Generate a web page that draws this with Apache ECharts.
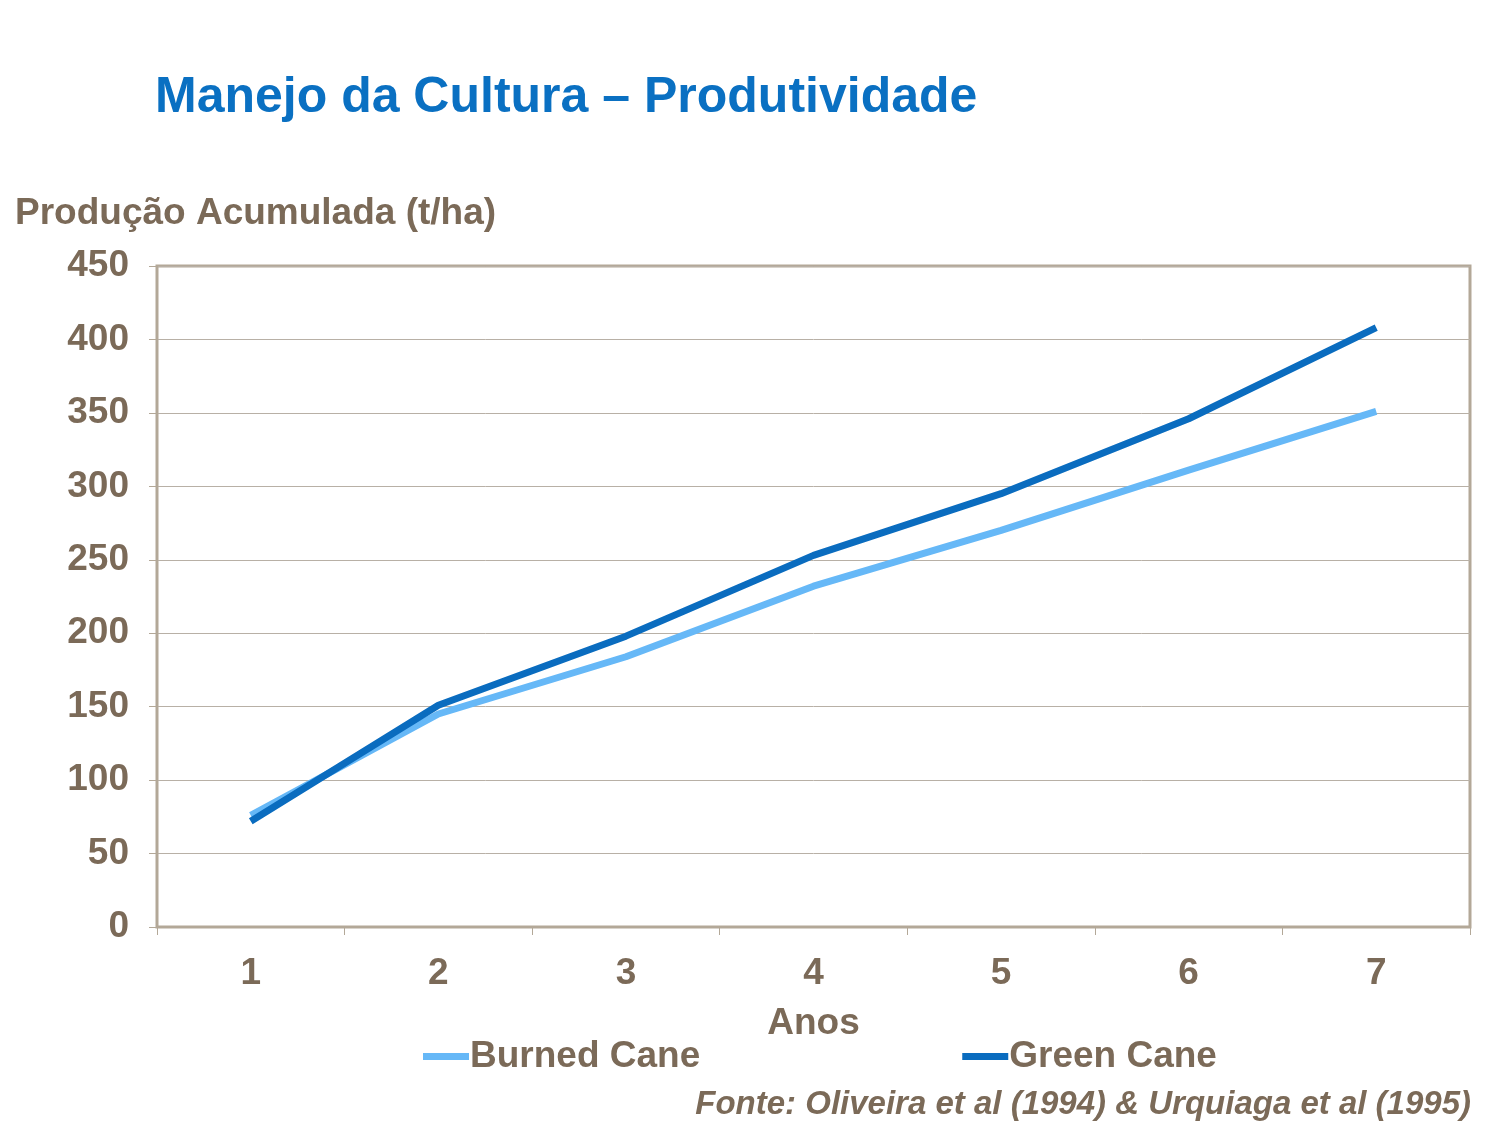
<!DOCTYPE html>
<html>
<head>
<meta charset="utf-8">
<script src="https://cdn.jsdelivr.net/npm/echarts@6/dist/echarts.min.js"></script>
</head>
<body style="margin:0;background:#fff">
<div id="chart" style="width:1500px;height:1126px;"></div>
<script>
var years = ['1', '2', '3', '4', '5', '6', '7'];
var burnedCane = [76, 145, 184, 232, 270, 311, 351];
var greenCane = [72, 151, 198, 253, 295, 346, 408];

var brown = '#7b6a58';
var font = 'Liberation Sans, Arial, sans-serif';

var chart = echarts.init(document.getElementById('chart'));
chart.setOption({
    backgroundColor: '#fff',
    textStyle: {fontFamily: font},
    title: [
        {text: 'Manejo da Cultura – Produtividade', left: 150, top: 68,
         textStyle: {color: '#0a70c2', fontSize: 50, fontWeight: 'bold', fontFamily: font}},
        {text: 'Fonte: Oliveira et al (1994) & Urquiaga et al (1995)', right: 24, top: 1083,
         textStyle: {color: brown, fontSize: 33, fontWeight: 'bold', fontStyle: 'italic', fontFamily: font}}
    ],
    legend: {
        bottom: 46, left: 418, itemGap: 262, itemWidth: 46, itemHeight: 7,
        icon: 'rect',
        textStyle: {color: brown, fontSize: 37, fontWeight: 'bold', fontFamily: font, padding: [0, 0, 0, -4]},
        data: ['Burned Cane', 'Green Cane']
    },
    grid: {left: 157, right: 30, top: 266, bottom: 199, show: true, borderColor: '#b3a898', borderWidth: 3},
    xAxis: {
        type: 'category', data: years, name: 'Anos', nameLocation: 'middle', nameGap: 78,
        nameTextStyle: {color: brown, fontSize: 37, fontWeight: 'bold'},
        axisLine: {lineStyle: {color: '#b3a898', width: 2}},
        axisTick: {show: true, length: 8, lineStyle: {color: '#b3a898'}},
        axisLabel: {color: brown, fontSize: 37, fontWeight: 'bold', margin: 28}
    },
    yAxis: {
        type: 'value', min: 0, max: 450, interval: 50,
        name: 'Produção Acumulada (t/ha)', nameGap: 34,
        nameTextStyle: {color: brown, fontSize: 37, fontWeight: 'bold', align: 'left', padding: [0, 0, 0, -142]},
        axisLine: {show: true, lineStyle: {color: '#b3a898', width: 2}},
        axisTick: {show: true, length: 8, lineStyle: {color: '#b3a898'}},
        splitLine: {lineStyle: {color: '#b8b0a6', width: 1}},
        axisLabel: {color: brown, fontSize: 37, fontWeight: 'bold', margin: 28}
    },
    series: [
        {name: 'Burned Cane', type: 'line', data: burnedCane, symbol: 'none',
         lineStyle: {color: '#66b8f7', width: 7}, itemStyle: {color: '#66b8f7'}},
        {name: 'Green Cane', type: 'line', data: greenCane, symbol: 'none',
         lineStyle: {color: '#0a6cbf', width: 7}, itemStyle: {color: '#0a6cbf'}}
    ]
});
</script>
</body>
</html>
